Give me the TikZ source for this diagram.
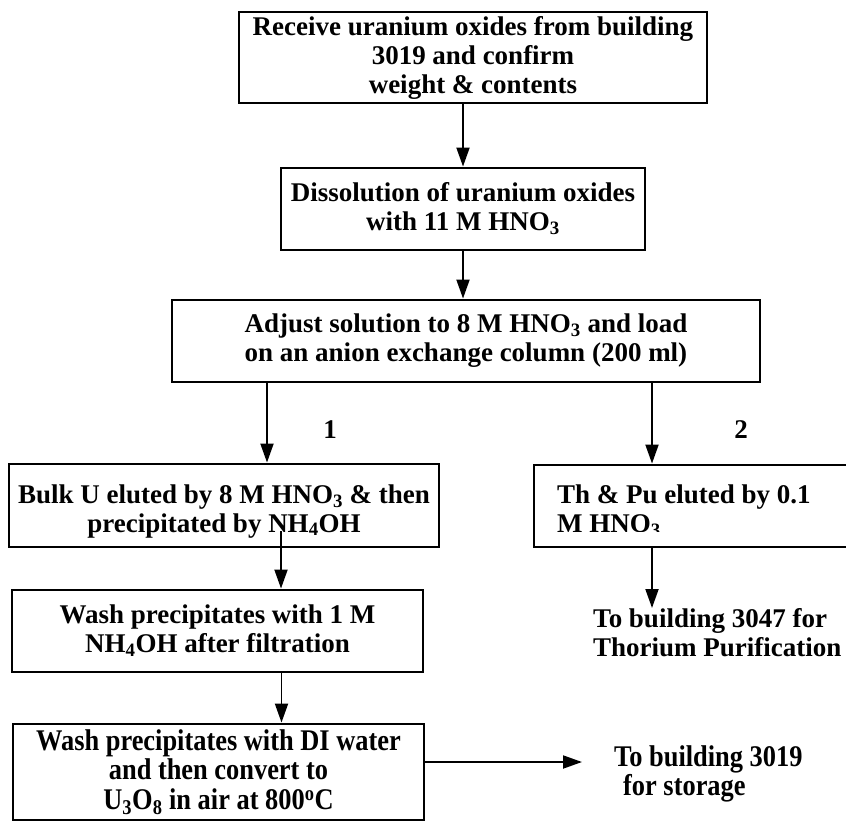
\documentclass[tikz,border=0pt]{standalone}
\usepackage{fontspec}
\setmainfont{Liberation Serif}
\newfontfamily\narrowserif[FakeStretch=0.88]{Liberation Serif}
\usetikzlibrary{arrows.meta, positioning}

\begin{document}
\begin{tikzpicture}[x=1pt, y=-1pt,
    stage/.style={rectangle, draw, line width=2.9pt, inner sep=1pt, align=center,
                  font=\fontsize{27}{29}\selectfont\bfseries},
    tag/.style={inner sep=0pt, align=left, font=\fontsize{27}{29}\selectfont\bfseries},
    narrow/.style={font=\fontsize{30}{29.5}\selectfont\narrowserif\bfseries},
    flow/.style={-{Triangle[length=19pt, width=13pt]}, line width=1.9pt}]

    \useasboundingbox (0,0) rectangle (846,822);

    % Receiving and dissolution
    \node[stage, minimum width=468, minimum height=91] (receive) at (473, 57.5)
        {Receive uranium oxides from building\\3019 and confirm\\weight \& contents};
    \node[stage, minimum width=364, minimum height=82] (dissolve) at (463, 209)
        {Dissolution of uranium oxides\\with 11 M HNO\textsubscript{3}};
    \node[stage, minimum width=588, minimum height=82] (adjust) at (466, 341)
        {Adjust solution to 8 M HNO\textsubscript{3} and load\\on an anion exchange column (200 ml)};

    % Column split
    \node[tag] (branch1) at (330, 430) {1};
    \node[tag] (branch2) at (741, 430) {2};
    \node[stage, minimum width=430, minimum height=83] (bulku) at (224, 505.5)
        {\rule{0pt}{30pt}Bulk U eluted by 8 M HNO\textsubscript{3} \& then\\precipitated by NH\textsubscript{4}OH};
    \node[stage, minimum width=326, minimum height=82] (thpu) at (697, 506) {};
    \begin{scope}
        \clip ([shift={(4,4)}]thpu.north west) rectangle ([shift={(-4,-17)}]thpu.south east);
        \node[tag, anchor=north west] (thpulbl) at (557, 485)
            {Th \& Pu eluted by 0.1\\M HNO\textsubscript{3}};
    \end{scope}

    % Uranium route
    \node[stage, minimum width=411, minimum height=82] (washa) at (217.5, 631)
        {Wash precipitates with 1 M\\NH\textsubscript{4}OH after filtration};
    \node[stage, narrow, minimum width=411, minimum height=96] (washb) at (218.5, 772)
        {Wash precipitates with DI water\\and then convert to\\U\textsubscript{3}O\textsubscript{8} in air at 800\textsuperscript{o}C};

    % Destinations
    \node[tag, anchor=north west] (tothorium) at (593, 608)
        {To building 3047 for\\Thorium Purification};
    \node[tag, narrow, anchor=north west] (tostorage) at (614, 745)
        {To building 3019\\\hspace*{9pt}for storage};
    \coordinate (storagetip) at (582, 762);

    % Arrows
    \draw[flow] (dissolve.north |- receive.south) -- (dissolve.north);
    \draw[flow] (dissolve.south) -- (dissolve.south |- adjust.north);
    \draw[flow] ([xshift=-199]adjust.south) -- ([xshift=-199]adjust.south |- bulku.north);
    \draw[flow] ([xshift=186]adjust.south) -- ([xshift=186]adjust.south |- thpu.north);
    \draw[flow] ([xshift=57, yshift=17]bulku.south) -- ([xshift=57]bulku.south |- washa.north);
    \draw[flow] ([xshift=64]washa.south) -- ([xshift=64]washa.south |- washb.north);
    \draw[flow] ([xshift=-45]thpu.south) -- ([xshift=-45]thpu.south |- tothorium.north);
    \draw[flow] ([yshift=10]washb.east) -- (storagetip);
\end{tikzpicture}
\end{document}
